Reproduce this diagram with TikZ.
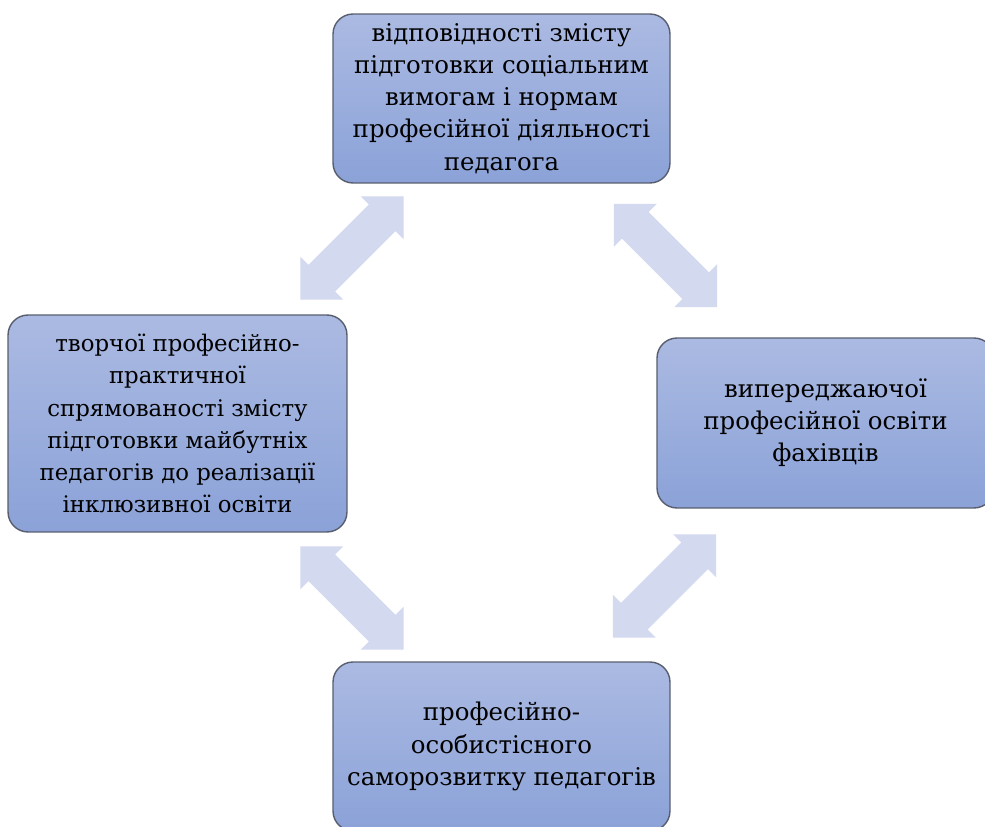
\documentclass[tikz,border=0pt]{standalone}
\usepackage{fontspec}
\setmainfont{DejaVu Serif}
\usetikzlibrary{positioning,calc,shapes.arrows}

\definecolor{boxtop}{RGB}{171,186,226}
\definecolor{boxbot}{RGB}{139,162,216}
\definecolor{boxline}{RGB}{88,94,110}
\definecolor{linkfill}{RGB}{211,217,238}

\begin{document}
\begin{tikzpicture}[
    x=0.02cm, y=-0.02cm,
    blk/.style={draw=boxline, line width=0.8pt, rounded corners=0.4cm,
                top color=boxtop, bottom color=boxbot,
                minimum width=6.74cm, minimum height=3.38cm, align=center,
                font=\fontsize{13.9pt}{18.3pt}\selectfont, inner sep=2pt},
    link/.style={double arrow, fill=linkfill, draw=none,
                 minimum height=2.92cm, inner xsep=0pt, inner ysep=0.37cm,
                 double arrow tip angle=90,
                 double arrow head extend=0.23cm},
  ]
  \useasboundingbox (0,0) rectangle (985,827);

  \node[blk] (top) at (501.5,98.5)
    {відповідності змісту\\підготовки соціальним\\вимогам і нормам\\професійної діяльності\\педагога};
  \node[blk, minimum width=6.78cm, minimum height=4.34cm,
        font=\fontsize{13pt}{18.3pt}\selectfont] (left) at (177.5,423.5)
    {творчої професійно-\\практичної\\спрямованості змісту\\підготовки майбутніх\\педагогів до реалізації\\інклюзивної освіти};
  \node[blk, minimum height=3.4cm] (right) at (825.5,423)
    {випереджаючої\\професійної освіти\\фахівців};
  \node[blk] (bottom) at (501.5,746.5)
    {професійно-\\особистісного\\саморозвитку педагогів};

  \node[link, rotate=45]  (tl) at ($(top.south west)!0.5!(left.north east)+(12,-1)$) {};
  \node[link, rotate=-45] (tr) at ($(top.south east)!0.5!(right.north west)+(2,-5)$) {};
  \node[link, rotate=-45] (bl) at ($(left.south east)!0.5!(bottom.north west)+(12,1)$) {};
  \node[link, rotate=45]  (br) at ($(right.south west)!0.5!(bottom.north east)+(1,1)$) {};
\end{tikzpicture}
\end{document}
